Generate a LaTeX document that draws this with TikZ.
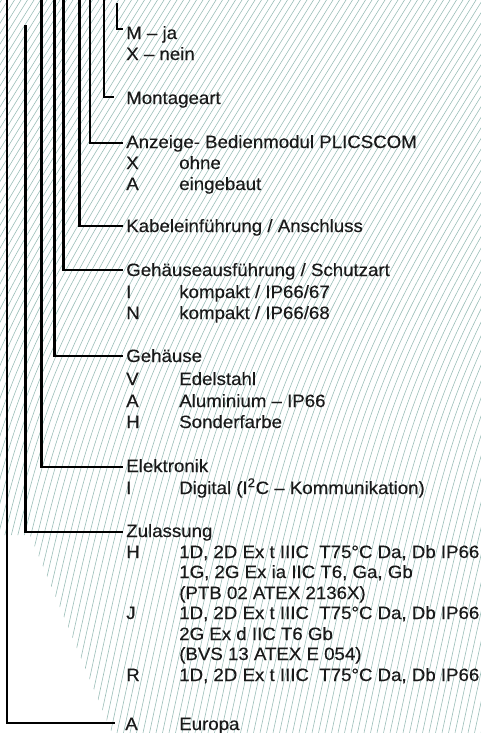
\documentclass[tikz,border=0pt]{standalone}
\usepackage{fontspec}
\setmainfont{Liberation Sans}[FakeStretch=1.045]
\newfontfamily\lblfamily{Liberation Sans}[FakeStretch=1.045,FakeBold=0.35]
\newcommand{\lblfont}{\lblfamily\fontsize{13.4pt}{15pt}\selectfont}
\definecolor{hatchcol}{RGB}{155,190,184}
\begin{document}
\begin{tikzpicture}[x=0.75pt,y=-0.75pt,
  conn/.style={line width=1.6pt, black},
  lbl/.style={anchor=base west, inner sep=0pt, font=\lblfont, text=black!90},
  hatch/.style={hatchcol, line width=0.45pt}]
\useasboundingbox (0,0) rectangle (481,733);
% background hatching
\begin{scope}
  \clip (0,0) -- (481,0) -- (481,733) -- (112,733) -- (30,535) -- (0,535) -- cycle;
  \foreach \b in {-312,-305.5,...,482} {
    \draw[hatch] (\b,733) .. controls ({\b+78},367) .. ({\b+307},0);
  }
\end{scope}
% labels
\node[lbl] (mja)   at (126,39)  {M – ja};
\node[lbl] (xnein) at (126,60)  {X – nein};
\node[lbl] (mont)  at (126,104) {Montageart};
\node[lbl] (anz)   at (126,148) {Anzeige- Bedienmodul PLICSCOM};
\node[lbl] (anzX)  at (126,169) {X};
\node[lbl] (anzXt) at (179,169) {ohne};
\node[lbl] (anzA)  at (126,190) {A};
\node[lbl] (anzAt) at (179,190) {eingebaut};
\node[lbl] (kab)   at (126,232) {Kabeleinführung / Anschluss};
\node[lbl] (gha)   at (126,276) {Gehäuseausführung / Schutzart};
\node[lbl] (ghaI)  at (126,298) {I};
\node[lbl] (ghaIt) at (179,298) {kompakt / IP66/67};
\node[lbl] (ghaN)  at (126,319) {N};
\node[lbl] (ghaNt) at (179,319) {kompakt / IP66/68};
\node[lbl] (geh)   at (126,362) {Gehäuse};
\node[lbl] (gehV)  at (126,385) {V};
\node[lbl] (gehVt) at (179,385) {Edelstahl};
\node[lbl] (gehA)  at (126,407) {A};
\node[lbl] (gehAt) at (179,407) {Aluminium – IP66};
\node[lbl] (gehH)  at (126,428) {H};
\node[lbl] (gehHt) at (179,428) {Sonderfarbe};
\node[lbl] (ele)   at (126,472) {Elektronik};
\node[lbl] (eleI)  at (126,494) {I};
\node[lbl] (eleIt) at (179,494) {Digital (I\textsuperscript{2}C – Kommunikation)};
\node[lbl] (zul)   at (126,537) {Zulassung};
\node[lbl] (zulH)  at (126,558) {H};
\node[lbl] (zulH1) at (179,558) {1D, 2D Ex t IIIC\ \ T75°C Da, Db IP66};
\node[lbl] (zulH2) at (179,578) {1G, 2G Ex ia IIC T6, Ga, Gb};
\node[lbl] (zulH3) at (179,599) {(PTB 02 ATEX 2136X)};
\node[lbl] (zulJ)  at (126,619) {J};
\node[lbl] (zulJ1) at (179,619) {1D, 2D Ex t IIIC\ \ T75°C Da, Db IP66};
\node[lbl] (zulJ2) at (179,640) {2G Ex d IIC T6 Gb};
\node[lbl] (zulJ3) at (179,660) {(BVS 13 ATEX E 054)};
\node[lbl] (zulR)  at (126,681) {R};
\node[lbl] (zulR1) at (179,681) {1D, 2D Ex t IIIC\ \ T75°C Da, Db IP66};
\node[lbl] (eurA)  at (125,730) {A};
\node[lbl] (eurAt) at (179,730) {Europa};
% tops of the verticals
\coordinate (tE)  at (7,0);
\coordinate (tZ)  at (25.5,25);
\coordinate (tEl) at (41.5,0);
\coordinate (tG)  at (54.5,0);
\coordinate (tGA) at (63.5,0);
\coordinate (tK)  at (79.5,0);
\coordinate (tA)  at (90,0);
\coordinate (tM)  at (104,0);
\coordinate (tMJ) at (117,3);
% connectors
\draw[conn] (tMJ) |- ([shift={(-3,-10)}]mja.base west);
\draw[conn] (tM)  |- ([shift={(-12,-7)}]mont.base west);
\draw[conn] (tA)  |- ([shift={(-3,-5)}]anz.base west);
\draw[conn] (tK)  |- ([shift={(-3,-6)}]kab.base west);
\draw[conn] (tGA) |- ([shift={(-3,-6)}]gha.base west);
\draw[conn] (tG)  |- ([shift={(-3,-6)}]geh.base west);
\draw[conn] (tEl) |- ([shift={(-3,-5)}]ele.base west);
\draw[conn] (tZ)  |- ([shift={(-3,-5)}]zul.base west);
\draw[conn] (tE)  |- ([shift={(-10,-7)}]eurA.base west);
\end{tikzpicture}
\end{document}
